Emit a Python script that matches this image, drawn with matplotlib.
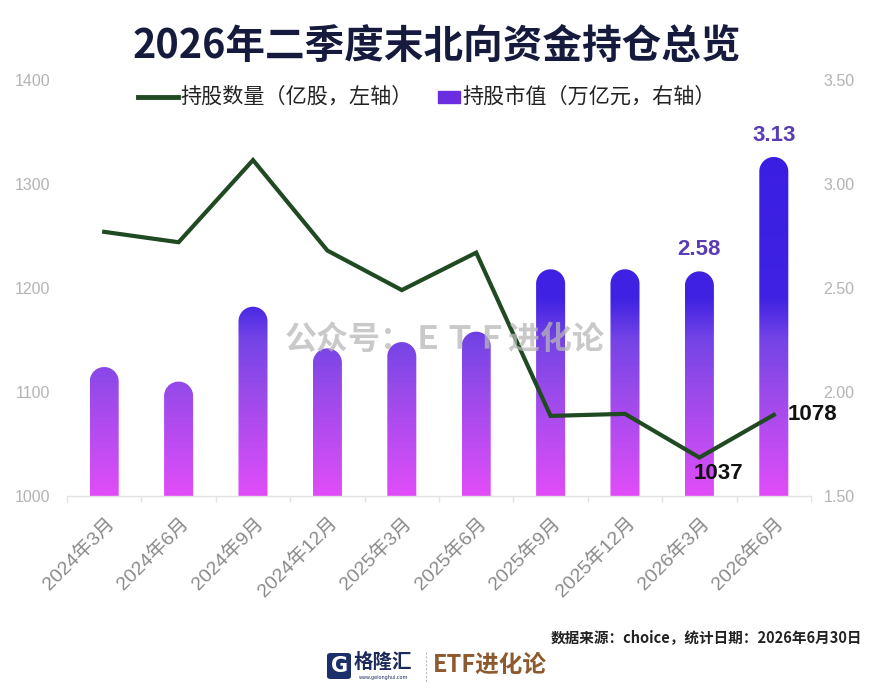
import numpy as np
import matplotlib
matplotlib.use("Agg")
import matplotlib.pyplot as plt
from matplotlib.path import Path
from matplotlib.patches import PathPatch, Rectangle, FancyBboxPatch
from matplotlib.lines import Line2D
from matplotlib.colors import LinearSegmentedColormap
from matplotlib.transforms import ScaledTranslation

plt.rcParams['font.family'] = ['Noto Sans CJK SC', 'DejaVu Sans']

# ---------------- data ----------------
categories = ['2024年3月', '2024年6月', '2024年9月', '2024年12月', '2025年3月',
              '2025年6月', '2025年9月', '2025年12月', '2026年3月', '2026年6月']
shares = [1254, 1244, 1323, 1236, 1198, 1234, 1077, 1079, 1037, 1078]      # 亿股, left axis
market_value = [2.12, 2.05, 2.41, 2.21, 2.24, 2.29, 2.59, 2.59, 2.58, 3.13]  # 万亿元, right axis
left_ticks = [1000, 1100, 1200, 1300, 1400]
right_ticks = [1.50, 2.00, 2.50, 3.00, 3.50]
bar_labels = {8: '2.58', 9: '3.13'}
line_labels = {8: '1037', 9: '1078'}

W, H = 870, 692
fig = plt.figure(figsize=(W / 100, H / 100), dpi=100)
fig.patch.set_facecolor('white')

ax = fig.add_axes([67 / W, 1 - 496 / H, 744 / W, 416 / H])
ax2 = ax.twinx()
x = np.arange(len(categories))

ax.set_xlim(-0.5, len(categories) - 0.5)
ax.set_ylim(left_ticks[0], left_ticks[-1])
ax2.set_ylim(right_ticks[0], right_ticks[-1])

# put line axes above bar axes
ax.set_zorder(ax2.get_zorder() + 1)
ax.patch.set_visible(False)

for a in (ax, ax2):
    for s in a.spines.values():
        s.set_visible(False)
ax.spines['bottom'].set_visible(True)
ax.spines['bottom'].set_color('#e3e3e3')
ax.spines['bottom'].set_linewidth(1.0)

# ticks
ax.set_yticks(left_ticks)
ax.set_yticklabels([str(t) for t in left_ticks], family=['Liberation Sans', 'DejaVu Sans'])
ax.tick_params(axis='y', length=0, pad=12, labelsize=11.5, labelcolor='#b3b3b3')
ax2.set_yticks(right_ticks)
ax2.set_yticklabels(['%.2f' % t for t in right_ticks], family=['Liberation Sans', 'DejaVu Sans'])
ax2.tick_params(axis='y', length=0, pad=9, labelsize=11.5, labelcolor='#b3b3b3')

ax.set_xticks(x)
ax.set_xticklabels(categories, rotation=45, ha='right', va='top', rotation_mode='anchor',
                   family=['Liberation Sans', 'Noto Sans CJK SC'])
ax.tick_params(axis='x', length=0, pad=13, labelsize=14, labelcolor='#8a8a8a')
for lab in ax.get_xticklabels():
    lab.set_transform(lab.get_transform() + ScaledTranslation(1 / 100, 0, fig.dpi_scale_trans))
ax.set_xticks(np.arange(len(categories) + 1) - 0.5, minor=True)
ax.tick_params(axis='x', which='minor', length=4, color='#e3e3e3', width=1)

# ---------------- gradient bars with rounded tops ----------------
bar_w = 0.39
hw = bar_w / 2
fig.canvas.draw()
p0 = ax2.transData.transform((0, right_ticks[0]))
p1 = ax2.transData.transform((1, right_ticks[0] + 1))
px_x = p1[0] - p0[0]
px_y = p1[1] - p0[1]
ry = hw * px_x / px_y  # cap radius in y data units (circle in pixels)

y_lo, y_hi = right_ticks[0], 3.2
def frac(v):
    return (v - y_lo) / (y_hi - y_lo)

cmap = LinearSegmentedColormap.from_list('barg', [
    (0.00, '#e04cf8'),
    (frac(1.75), '#bd4cf2'),
    (frac(2.00), '#9a4aea'),
    (frac(2.25), '#7444e6'),
    (frac(2.45), '#3f22e2'),
    (1.00, '#3a1ee2'),
])
grad = np.linspace(0, 1, 400).reshape(-1, 1)

base = right_ticks[0]
for xi, v in zip(x, market_value):
    x0, x1 = xi - hw, xi + hw
    yc = v - ry
    t = np.linspace(np.pi, 0, 40)
    arc = np.column_stack([xi + hw * np.cos(t), yc + ry * np.sin(t)])
    verts = np.vstack([[x0, base], [x0, yc], arc, [x1, base], [x0, base]])
    codes = [Path.MOVETO] + [Path.LINETO] * (len(verts) - 2) + [Path.CLOSEPOLY]
    patch = PathPatch(Path(verts, codes), facecolor='none', edgecolor='none',
                      transform=ax2.transData)
    ax2.add_patch(patch)
    im = ax2.imshow(grad, cmap=cmap, origin='lower', aspect='auto',
                    extent=(x0, x1, y_lo, y_hi), interpolation='bilinear', zorder=2)
    im.set_clip_path(patch)

ax2.set_xlim(-0.5, len(categories) - 0.5)
ax2.set_ylim(right_ticks[0], right_ticks[-1])

# ---------------- line ----------------
ax.plot(x, shares, color='#1f4a22', lw=3.0, solid_joinstyle='miter', zorder=5)

# data labels
for i, txt in bar_labels.items():
    ax2.annotate(txt, (x[i], market_value[i]), xytext=(0, 8), textcoords='offset points',
                 ha='center', va='bottom', fontsize=16, fontweight='bold', color='#5a3db5',
                 family=['Liberation Sans', 'DejaVu Sans'], zorder=6)
ax.annotate(line_labels[8], (x[8], shares[8]), xytext=(14, -4), textcoords='offset points',
            ha='center', va='top', fontsize=16, fontweight='bold', color='#111111',
            family=['Liberation Sans', 'DejaVu Sans'], zorder=6)
ax.annotate(line_labels[9], (x[9], shares[9]), xytext=(10, 0), textcoords='offset points',
            ha='left', va='center', fontsize=16, fontweight='bold', color='#111111',
            family=['Liberation Sans', 'DejaVu Sans'], zorder=6)

# watermark
fig.text(445 / W, 1 - 340 / H, '公众号：ＥＴＦ进化论', ha='center', va='center',
         fontsize=23, fontweight='bold', color='#b8b8b8', alpha=0.75, zorder=10)

# ---------------- title & legend ----------------
fig.text(437 / W, 1 - 46 / H, '2026年二季度末北向资金持仓总览', ha='center', va='center',
         fontsize=28.5, fontweight='heavy', color='#161a3d')

fig.add_artist(Line2D([138 / W, 178 / W], [1 - 97 / H, 1 - 97 / H], color='#1f4a22', lw=3.5,
                      transform=fig.transFigure))
fig.text(180 / W, 1 - 97 / H, '持股数量（亿股，左轴）', ha='left', va='center',
         fontsize=15.2, color='#222222')
fig.add_artist(Rectangle((438 / W, 1 - 103 / H), 22 / W, 12 / H, color='#6a2ee0',
                         transform=fig.transFigure))
fig.text(462 / W, 1 - 97 / H, '持股市值（万亿元，右轴）', ha='left', va='center',
         fontsize=15.2, color='#222222')

# ---------------- footer ----------------
fig.text(862 / W, 1 - 637 / H, '数据来源：choice，统计日期：2026年6月30日', ha='right', va='center',
         fontsize=10.5, fontweight='bold', color='#222222')

fig.add_artist(FancyBboxPatch((327 / W, 1 - 679 / H), 24 / W, 26 / H,
                              boxstyle='round,pad=0,rounding_size=0.004',
                              facecolor='#1b2f6b', edgecolor='none', transform=fig.transFigure))
fig.text(340 / W, 1 - 666 / H, 'G', ha='center', va='center', fontsize=15, fontweight='bold',
         color='white', family=['DejaVu Sans'])
fig.text(383 / W, 1 - 662 / H, '格隆汇', ha='center', va='center', fontsize=14,
         fontweight='bold', color='#1b2a5a')
fig.text(383 / W, 1 - 678 / H, 'www.gelonghui.com', ha='center', va='center', fontsize=3.5,
         color='#1b2a5a', family=['DejaVu Sans'])
fig.add_artist(Line2D([426 / W, 426 / W], [1 - 652 / H, 1 - 682 / H], color='#bbbbbb', lw=0.8,
                      ls=(0, (2, 1.5)), transform=fig.transFigure))
fig.text(433 / W, 1 - 665 / H, 'ETF进化论', ha='left', va='center', fontsize=17,
         fontweight='bold', color='#8c5a2e')

fig.savefig('out.png', dpi=100, facecolor='white')
